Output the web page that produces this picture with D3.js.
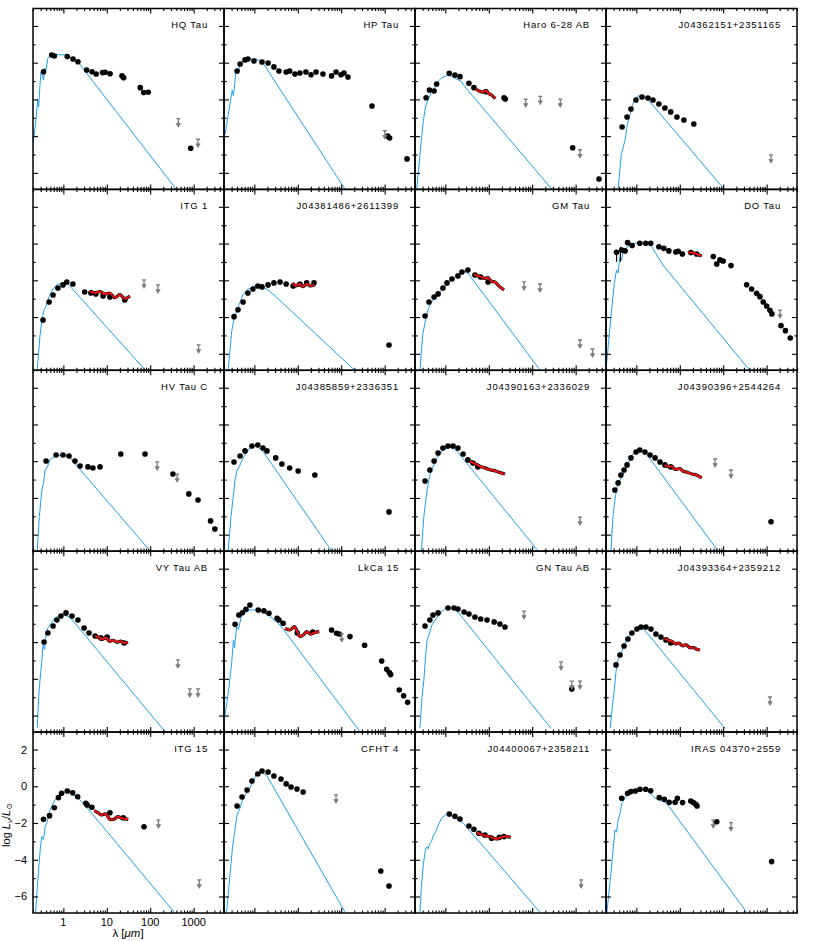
<!DOCTYPE html>
<html>
<head>
<meta charset="utf-8">
<script src="https://cdn.jsdelivr.net/npm/d3@7"></script>
<style>
  body { margin: 0; background: #fff; }
  text { font-family: "Liberation Sans", "DejaVu Sans", sans-serif; }
</style>
</head>
<body>
<div id="chart"></div>
<script>
// panel order: row by row, 4 per row
const panelNames = ['HQ Tau', 'HP Tau', 'Haro 6-28 AB', 'J04362151+2351165',
  'ITG 1', 'J04381486+2611399', 'GM Tau', 'DO Tau',
  'HV Tau C', 'J04385859+2336351', 'J04390163+2336029', 'J04390396+2544264',
  'VY Tau AB', 'LkCa 15', 'GN Tau AB', 'J04393364+2359212',
  'ITG 15', 'CFHT 4', 'J04400067+2358211', 'IRAS 04370+2559'];

// [lambda (um), log Lnu/Lsun]
const photometry = [
  [[0.35,-0.49],[0.54,0.42],[0.62,0.36],[1.23,0.33],[1.67,0.2],[2.17,0.05],[3.44,-0.4],[4.57,-0.49],[5.7,-0.62],[8.0,-0.54],[9.2,-0.52],[11.9,-0.6],[22.4,-0.72],[24.5,-0.82],[59,-1.36],[71,-1.63],[90,-1.61],[855,-4.66]],
  [[0.4,-0.45],[0.47,-0.07],[0.61,0.15],[0.71,0.2],[0.98,0.09],[1.5,0.04],[2.07,-0.02],[2.82,-0.23],[3.68,-0.45],[5.4,-0.51],[6.5,-0.45],[8.6,-0.62],[11.2,-0.56],[15.4,-0.51],[20.2,-0.66],[26.4,-0.51],[38,-0.62],[60,-0.72],[76,-0.51],[99,-0.66],[116,-0.56],[143,-0.78],[511,-2.36],[1180,-4.0],[1300,-4.1],[3270,-5.24]],
  [[0.36,-1.91],[0.43,-1.49],[0.55,-1.54],[0.63,-1.16],[1.23,-0.58],[1.66,-0.67],[2.17,-0.76],[3.49,-1.12],[4.54,-1.36],[8.6,-1.58],[22.4,-1.91],[24,-1.98],[855,-4.63],[3450,-6.33]],
  [[0.47,-3.5],[0.61,-2.96],[0.75,-2.52],[0.98,-2.03],[1.35,-1.87],[1.85,-1.92],[2.42,-2.03],[3.3,-2.25],[4.54,-2.47],[6.17,-2.68],[8.6,-2.96],[12.4,-3.12],[21,-3.34]],
  [[0.34,-4.16],[0.47,-3.18],[0.58,-2.8],[0.75,-2.42],[0.98,-2.25],[1.2,-2.09],[1.66,-2.2],[3.1,-2.64],[4.3,-2.69],[5.6,-2.74],[8.2,-2.85],[11.8,-2.91],[26,-3.07]],
  [[0.34,-3.98],[0.42,-3.6],[0.55,-3.18],[0.71,-2.69],[0.93,-2.47],[1.2,-2.31],[1.5,-2.36],[2.07,-2.25],[2.82,-2.14],[3.9,-2.09],[5.4,-2.2],[7.8,-2.31],[11.2,-2.2],[16,-2.14],[23.6,-2.14],[1260,-5.52]],
  [[0.34,-3.94],[0.42,-3.18],[0.55,-2.91],[0.68,-2.74],[0.88,-2.42],[1.09,-2.14],[1.42,-1.93],[1.95,-1.76],[2.42,-1.55],[3.3,-1.44],[4.8,-1.71],[6.5,-1.82],[9.6,-2.09]],
  [[0.35,-0.47],[0.46,-0.35],[0.55,-0.4],[0.63,0.05],[0.8,-0.11],[1.2,0.02],[1.64,0.02],[2.14,0.02],[3.3,-0.17],[4.3,-0.26],[5.6,-0.4],[8.1,-0.46],[9.2,-0.42],[11.5,-0.57],[18,-0.49],[24.5,-0.57],[59,-0.71],[71,-1.11],[84,-0.89],[100,-0.95],[151,-1.2],[346,-2.24],[451,-2.47],[589,-2.71],[700,-2.89],[835,-3.18],[1000,-3.4],[1190,-3.63],[1320,-3.83],[2140,-4.47],[2700,-4.74],[3500,-5.14]],
  [[0.4,-1.99],[0.68,-1.66],[0.98,-1.66],[1.35,-1.72],[1.85,-1.99],[2.42,-2.26],[3.68,-2.31],[4.8,-2.37],[7,-2.31],[21,-1.61],[76,-1.61],[334,-2.7],[775,-3.78],[1260,-4.11],[2450,-5.25],[3080,-5.69]],
  [[0.34,-2.04],[0.47,-1.72],[0.61,-1.44],[0.88,-1.17],[1.2,-1.12],[1.58,-1.28],[1.95,-1.44],[3.1,-1.82],[4.3,-2.15],[6.5,-2.37],[10.2,-2.53],[24.7,-2.75],[1260,-4.76]],
  [[0.34,-3.08],[0.44,-2.48],[0.55,-1.99],[0.68,-1.55],[0.88,-1.28],[1.15,-1.17],[1.5,-1.17],[1.95,-1.28],[2.56,-1.61],[3.3,-1.93],[4.3,-2.1],[5.6,-2.31]],
  [[0.32,-3.57],[0.38,-3.18],[0.44,-2.75],[0.52,-2.48],[0.61,-2.2],[0.75,-1.82],[0.98,-1.5],[1.2,-1.39],[1.58,-1.5],[2.07,-1.66],[2.7,-1.82],[3.5,-2.04],[4.54,-2.2],[6.2,-2.31],[1260,-5.3]],
  [[0.36,-1.99],[0.44,-1.5],[0.58,-1.12],[0.71,-0.8],[0.88,-0.58],[1.15,-0.41],[1.58,-0.58],[2.17,-0.8],[3,-1.23],[3.9,-1.5],[5.4,-1.67],[7.3,-1.77],[10.2,-1.72],[25,-2.05]],
  [[0.36,-1.03],[0.44,-0.52],[0.53,-0.4],[0.64,-0.21],[0.79,0.02],[1.23,-0.25],[1.66,-0.29],[2.17,-0.43],[3.34,-0.7],[3.68,-0.8],[4.6,-0.97],[9.7,-1.5],[22,-1.45],[60,-1.34],[78,-1.52],[90,-1.56],[159,-1.7],[346,-2.17],[855,-3.03],[1115,-3.48],[1280,-3.66],[1380,-3.77],[2170,-4.61],[2740,-4.92],[3380,-5.28]],
  [[0.34,-1.12],[0.44,-0.8],[0.52,-0.52],[0.68,-0.41],[1.15,-0.14],[1.58,-0.14],[1.95,-0.2],[2.7,-0.36],[3.5,-0.47],[4.8,-0.63],[6.5,-0.74],[9.1,-0.8],[13.3,-0.9],[18,-1.01],[23.6,-1.18],[815,-4.55]],
  [[0.34,-3.24],[0.42,-2.7],[0.52,-2.21],[0.64,-1.83],[0.79,-1.5],[1.03,-1.29],[1.28,-1.18],[1.66,-1.18],[2.17,-1.29],[2.82,-1.56],[3.68,-1.72],[4.8,-1.88],[6.2,-2.05]],
  [[0.35,-1.8],[0.48,-1.6],[0.62,-1.17],[0.77,-0.62],[0.91,-0.38],[1.23,-0.26],[1.64,-0.35],[2.14,-0.57],[3.3,-0.93],[3.55,-1.02],[4.54,-1.14],[11.8,-1.44],[24,-1.71],[72,-2.2]],
  [[0.4,-1.07],[0.52,-0.58],[0.68,-0.2],[0.88,0.29],[1.2,0.67],[1.5,0.83],[2.07,0.78],[2.82,0.56],[4.1,0.4],[5.4,0.13],[7,-0.04],[9.6,-0.15],[13.3,-0.31],[815,-4.61],[1260,-5.43]],
  [[1.23,-1.51],[1.66,-1.63],[2.17,-1.78],[3.49,-2.16],[4.54,-2.34],[5.9,-2.56],[8.1,-2.65],[11.6,-2.83],[17.5,-2.78],[22.4,-2.74]],
  [[0.46,-0.65],[0.63,-0.38],[0.75,-0.29],[0.95,-0.26],[1.21,-0.16],[1.64,-0.16],[2.14,-0.24],[3.37,-0.62],[4.4,-0.71],[5.7,-0.87],[7.8,-0.87],[8.8,-0.65],[11.6,-0.89],[17.9,-0.8],[20.5,-0.89],[23.3,-0.98],[25,-1.07],[71,-1.93],[1300,-4.1]]
];

const upperLimits = [
  [[444,-3.05],[1260,-4.17]],
  [[1010,-3.7]],
  [[71,-1.98],[154,-1.83],[443,-1.98],[1260,-4.74]],
  [[1260,-5.02]],
  [[72,-1.98],[151,-2.25],[1300,-5.52]],
  [],
  [[65,-2.09],[151,-2.2],[1260,-5.25],[2450,-5.74]],
  [[2040,-3.62]],
  [[145,-2.04],[417,-2.7]],
  [],
  [[1260,-5.04]],
  [[65,-1.88],[151,-2.48]],
  [[434,-2.97],[815,-4.55],[1260,-4.55]],
  [[103,-1.55]],
  [[65,-0.31],[460,-3.08],[815,-4.12],[1260,-4.12]],
  [[1200,-4.99]],
  [[155,-1.84],[1350,-5.1]],
  [[76,-0.47]],
  [[1340,-5.1]],
  [[59,-1.84],[151,-1.98]]
];

const irsSpectra = [
  [],
  [],
  [[5.15,-1.45],[6.17,-1.56],[7.3,-1.6],[8.6,-1.52],[9.76,-1.67],[11.5,-1.76],[14.1,-1.96]],
  [],
  [[4.1,-2.6],[5.4,-2.68],[7,-2.62],[9.1,-2.75],[11.8,-2.7],[15.4,-2.95],[20,-2.78],[26,-3.0],[34,-2.85]],
  [[7.5,-2.15],[9,-2.3],[11,-2.2],[13,-2.35],[16,-2.2],[19,-2.3],[24,-2.25]],
  [[4.54,-1.66],[5.5,-1.75],[6.5,-1.8],[7.8,-1.9],[9.5,-1.85],[11.5,-2.05],[14,-2.1],[17,-2.3],[22.4,-2.53]],
  [[15.5,-0.5],[18,-0.47],[20.7,-0.51],[25,-0.58],[32,-0.68]],
  [],
  [],
  [[3.68,-1.99],[4.5,-2.1],[5.5,-2.2],[6.5,-2.3],[8,-2.35],[10,-2.45],[12.5,-2.5],[15,-2.55],[18,-2.62],[23.6,-2.7]],
  [[4.54,-2.2],[5.5,-2.3],[6.5,-2.28],[8,-2.45],[10,-2.4],[12,-2.55],[15,-2.6],[19,-2.7],[24,-2.75],[32,-2.91]],
  [[5.4,-1.67],[6.5,-1.75],[7.8,-1.85],[9.5,-1.75],[11.5,-1.95],[14,-1.9],[17,-2.0],[21,-1.95],[25,-2.05],[30.7,-2.0]],
  [[5.1,-1.25],[6.6,-1.34],[8.4,-1.16],[9.7,-1.43],[11.2,-1.7],[13.4,-1.61],[16,-1.43],[19.6,-1.56],[23.4,-1.49],[31.2,-1.43]],
  [],
  [[4.54,-1.78],[5.5,-1.9],[6.5,-1.95],[8,-2.1],[9.5,-2.05],[11.5,-2.2],[14,-2.15],[17,-2.3],[21,-2.3],[25,-2.4],[29.3,-2.43]],
  [[5.15,-1.33],[6.25,-1.44],[7.4,-1.56],[9.6,-1.51],[11.8,-1.8],[14.5,-1.8],[18,-1.65],[22.3,-1.74],[31.2,-1.8]],
  [],
  [[5.25,-2.53],[6.2,-2.6],[7.3,-2.65],[9.1,-2.71],[10.6,-2.74],[12.6,-2.83],[15.2,-2.87],[18,-2.8],[21.5,-2.74],[26.4,-2.74],[32,-2.78]],
  []
];

const photospheres = [
  [[0.2,-4.4],[0.23,-3.3],[0.257,-2.03],[0.27,-2.4],[0.29,-1.2],[0.306,-0.51],[0.33,-0.7],[0.35,-0.94],[0.37,-0.3],[0.4,-0.4],[0.44,0.25],[0.49,0.36],[0.64,0.44],[1.2,0.42],[2.17,0.04],[407,-6.93]],
  [[0.21,-3.94],[0.26,-2.6],[0.31,-1.49],[0.33,-1.8],[0.38,-0.4],[0.42,-0.6],[0.47,-0.02],[0.61,0.2],[1.09,0.2],[1.58,-0.02],[122,-6.88]],
  [[0.22,-6.88],[0.28,-4.2],[0.31,-3.21],[0.34,-2.58],[0.37,-2.2],[0.4,-2.0],[0.44,-1.8],[0.49,-1.49],[0.55,-1.6],[0.6,-1.2],[0.67,-1.03],[0.83,-0.82],[1.17,-0.67],[2.38,-1.03],[2.59,-1.21],[281,-6.88]],
  [[0.38,-6.88],[0.45,-5.0],[0.55,-4.21],[0.6,-3.6],[0.64,-3.23],[0.7,-2.9],[0.84,-2.19],[1.09,-1.81],[1.58,-1.87],[2.07,-2.14],[104,-6.88]],
  [[0.25,-6.88],[0.29,-5.0],[0.32,-4.16],[0.36,-3.6],[0.4,-3.4],[0.44,-3.07],[0.55,-2.53],[0.71,-2.25],[0.93,-2.14],[1.28,-2.2],[76,-6.88]],
  [[0.25,-6.88],[0.3,-4.8],[0.34,-4.1],[0.4,-3.6],[0.45,-3.3],[0.55,-2.75],[0.71,-2.5],[0.93,-2.36],[1.3,-2.3],[2.0,-2.5],[3.0,-2.85],[200,-6.88]],
  [[0.26,-6.88],[0.3,-5.0],[0.34,-4.3],[0.4,-3.6],[0.45,-3.3],[0.55,-3.0],[0.7,-2.7],[0.9,-2.4],[1.2,-2.1],[1.6,-1.85],[2.1,-1.6],[2.7,-1.5],[3.3,-1.6],[150,-6.88]],
  [[0.2,-6.88],[0.26,-4.0],[0.31,-2.16],[0.35,-1.44],[0.38,-1.6],[0.42,-0.71],[0.46,-0.9],[0.5,-0.35],[0.65,-0.17],[0.85,0.02],[1.88,0.02],[2.25,-0.17],[4.1,-1.17],[400,-6.88]],
  [[0.25,-6.88],[0.28,-5.0],[0.32,-3.57],[0.35,-3.2],[0.38,-2.48],[0.43,-2.3],[0.49,-1.93],[0.64,-1.72],[1.09,-1.66],[1.5,-1.88],[99,-6.88]],
  [[0.25,-6.88],[0.29,-5.0],[0.32,-4.11],[0.36,-3.0],[0.4,-2.48],[0.45,-2.3],[0.55,-1.82],[0.79,-1.28],[1.09,-1.17],[1.5,-1.39],[60,-6.88]],
  [[0.28,-6.88],[0.32,-5.0],[0.38,-3.57],[0.42,-3.0],[0.47,-2.48],[0.55,-2.2],[0.64,-1.82],[0.88,-1.39],[1.28,-1.23],[1.76,-1.39],[136,-6.88]],
  [[0.26,-6.88],[0.29,-5.0],[0.32,-4.11],[0.36,-3.4],[0.42,-3.02],[0.5,-2.7],[0.58,-2.37],[0.79,-1.66],[1.09,-1.39],[1.58,-1.5],[76,-6.88]],
  [[0.25,-6.67],[0.27,-5.0],[0.29,-4.06],[0.32,-3.0],[0.34,-2.16],[0.37,-2.4],[0.4,-1.6],[0.44,-1.23],[0.64,-0.69],[0.93,-0.47],[1.42,-0.64],[220,-6.88]],
  [[0.2,-6.33],[0.25,-4.78],[0.3,-3.15],[0.33,-1.88],[0.35,-2.3],[0.39,-1.16],[0.43,-1.3],[0.51,-0.52],[0.79,-0.25],[1.23,-0.25],[2.1,-0.52],[3.9,-1.07],[272,-6.88]],
  [[0.26,-6.67],[0.29,-5.0],[0.32,-4.06],[0.35,-2.8],[0.38,-1.88],[0.42,-1.6],[0.49,-1.07],[0.75,-0.41],[1.03,-0.14],[1.5,-0.14],[1.95,-0.36],[272,-6.7]],
  [[0.25,-6.67],[0.28,-5.5],[0.31,-4.6],[0.34,-3.6],[0.38,-2.97],[0.45,-2.6],[0.52,-2.16],[0.71,-1.61],[0.98,-1.29],[1.42,-1.29],[1.85,-1.56],[110,-6.7]],
  [[0.23,-6.86],[0.26,-5.0],[0.28,-4.01],[0.3,-3.2],[0.32,-2.74],[0.35,-2.9],[0.38,-2.2],[0.42,-2.0],[0.49,-1.29],[0.64,-0.75],[0.84,-0.47],[1.19,-0.26],[2.03,-0.57],[3.44,-1.14],[358,-6.86]],
  [[0.23,-6.84],[0.27,-5.0],[0.31,-3.47],[0.35,-2.5],[0.4,-1.56],[0.45,-1.3],[0.55,-0.64],[0.79,-0.1],[1.09,0.61],[1.5,0.78],[1.95,0.56],[122,-6.84]],
  [[0.26,-6.86],[0.28,-5.5],[0.31,-4.28],[0.34,-3.6],[0.37,-3.29],[0.4,-3.4],[0.44,-3.1],[0.48,-3.0],[0.53,-2.65],[0.6,-2.5],[0.69,-2.11],[0.82,-1.74],[1.07,-1.52],[1.52,-1.65],[2.59,-2.01],[151,-6.86]],
  [[0.21,-6.86],[0.26,-4.74],[0.29,-3.5],[0.32,-2.38],[0.35,-2.5],[0.38,-1.84],[0.42,-1.5],[0.46,-0.93],[0.6,-0.47],[0.85,-0.2],[1.72,-0.2],[2.7,-0.65],[5.0,-0.93],[346,-6.86]]
];

// [panel, lambda, top, bottom]
const errorBars = [[7, 0.35, -0.39, -0.99], [7, 0.43, -0.17, -0.99]];

const xTickLabels = [1, 10, 100, 1000];
const yTickLabels = [2, 0, -2, -4, -6];

const width = 830, height = 941;
const marginLeft = 33, marginTop = 8.5;
const cellW = 191, cellH = 180.9;
const nCols = 4;

const x = d3.scaleLog().domain([0.2, 5000]).range([0, cellW]);
const y = d3.scaleLinear().domain([-6.9, 2.95]).range([cellH, 0]);

const xMajor = x.ticks().filter(v => Math.abs(Math.log10(v) - Math.round(Math.log10(v))) < 1e-9);
const xMinor = x.ticks().filter(v => !xMajor.includes(v));
const yMajor = d3.range(-6, 3, 2);
const yMinor = d3.range(-5, 3, 2);

const svg = d3.select('#chart').append('svg')
    .attr('width', width)
    .attr('height', height);

const line = d3.line().x(d => x(d[0])).y(d => y(d[1]));
const smooth = d3.line().x(d => x(d[0])).y(d => y(d[1])).curve(d3.curveCatmullRom);
const blue = '#1d9ff5';

panelNames.forEach((name, i) => {
    const col = i % nCols, row = Math.floor(i / nCols);
    const g = svg.append('g')
        .attr('transform', `translate(${marginLeft + col * cellW},${marginTop + row * cellH})`);

    g.append('clipPath').attr('id', 'clip' + i)
        .append('rect').attr('width', cellW).attr('height', cellH);

    const plot = g.append('g').attr('clip-path', `url(#clip${i})`);

    // photosphere model
    plot.append('path')
        .datum(photospheres[i])
        .attr('d', line)
        .attr('fill', 'none')
        .attr('stroke', blue)
        .attr('stroke-width', 1);

    // error bars
    errorBars.filter(e => e[0] === i).forEach(e => {
        plot.append('line')
            .attr('x1', x(e[1])).attr('x2', x(e[1]))
            .attr('y1', y(e[2])).attr('y2', y(e[3]))
            .attr('stroke', '#000').attr('stroke-width', 1.2);
    });

    // photometry
    plot.selectAll('circle.phot')
        .data(photometry[i])
        .join('circle')
        .attr('class', 'phot')
        .attr('cx', d => x(d[0]))
        .attr('cy', d => y(d[1]))
        .attr('r', 2.8)
        .attr('fill', '#000');

    // IRS spectrum
    if (irsSpectra[i].length) {
        plot.append('path')
            .datum(irsSpectra[i])
            .attr('d', smooth)
            .attr('fill', 'none')
            .attr('stroke', '#000')
            .attr('stroke-width', 3.2);
        plot.append('path')
            .datum(irsSpectra[i])
            .attr('d', smooth)
            .attr('fill', 'none')
            .attr('stroke', '#ee1111')
            .attr('stroke-width', 2);
    }

    // upper limits
    const lim = plot.selectAll('g.lim')
        .data(upperLimits[i])
        .join('g')
        .attr('class', 'lim')
        .attr('transform', d => `translate(${x(d[0])},${y(d[1])})`);
    lim.append('path')
        .attr('d', 'M-2,0H2M0,0V6')
        .attr('stroke', '#7a7a7a')
        .attr('stroke-width', 1.3)
        .attr('fill', 'none');
    lim.append('path')
        .attr('d', 'M-2.7,4.3L0,9L2.7,4.3Z')
        .attr('fill', '#7a7a7a');

    // ticks, inward on all four sides
    const addAxis = (axis, tf) => {
        const a = g.append('g').attr('transform', tf).call(axis);
        a.select('.domain').remove();
        a.selectAll('line').attr('stroke', '#000').attr('stroke-width', 1.1);
        return a;
    };
    [[xMajor, 5], [xMinor, 2.6]].forEach(([vals, len]) => {
        addAxis(d3.axisBottom(x).tickValues(vals).tickSize(-len).tickFormat(''), `translate(0,${cellH})`);
        addAxis(d3.axisTop(x).tickValues(vals).tickSize(-len).tickFormat(''), 'translate(0,0)');
    });
    [[yMajor, 5], [yMinor, 2.6]].forEach(([vals, len]) => {
        addAxis(d3.axisLeft(y).tickValues(vals).tickSize(-len).tickFormat(''), 'translate(0,0)');
        addAxis(d3.axisRight(y).tickValues(vals).tickSize(-len).tickFormat(''), `translate(${cellW},0)`);
    });

    g.append('rect')
        .attr('width', cellW).attr('height', cellH)
        .attr('fill', 'none')
        .attr('stroke', '#000')
        .attr('stroke-width', 1.5);

    g.append('text')
        .attr('x', cellW - 16)
        .attr('y', 19.8)
        .attr('text-anchor', 'end')
        .attr('font-size', '9.5px')
        .attr('letter-spacing', '0.8px')
        .attr('fill', '#000')
        .text(name);

    // tick labels only on the bottom-left panel
    if (col === 0 && row === 4) {
        g.selectAll('text.xl')
            .data(xTickLabels)
            .join('text')
            .attr('class', 'xl')
            .attr('x', d => x(d))
            .attr('y', cellH + 13)
            .attr('text-anchor', 'middle')
            .attr('font-size', '11px')
            .text(d => d);
        g.selectAll('text.yl')
            .data(yTickLabels)
            .join('text')
            .attr('class', 'yl')
            .attr('x', -6)
            .attr('y', d => y(d) + 4)
            .attr('text-anchor', 'end')
            .attr('font-size', '11px')
            .text(d => d < 0 ? '\u2212' + Math.abs(d) : d);
    }
});

// axis titles
const xt = svg.append('text')
    .attr('x', 128)
    .attr('y', 937)
    .attr('text-anchor', 'middle')
    .attr('font-size', '11.5px');
xt.append('tspan').text('\u03bb   [');
xt.append('tspan').attr('font-style', 'italic').text('\u03bcm');
xt.append('tspan').text(']');

const yt = svg.append('text')
    .attr('transform', 'translate(10,825) rotate(-90)')
    .attr('text-anchor', 'middle')
    .attr('font-size', '11px');
yt.append('tspan').text('log ');
yt.append('tspan').attr('font-style', 'italic').text('L');
yt.append('tspan').attr('font-style', 'italic').attr('font-size', '8px').attr('dy', 2).text('\u03bd');
yt.append('tspan').attr('dy', -2).text('/');
yt.append('tspan').attr('font-style', 'italic').text('L');
yt.append('tspan').attr('font-size', '8px').attr('dy', 2).text('\u2299');
</script>
</body>
</html>
